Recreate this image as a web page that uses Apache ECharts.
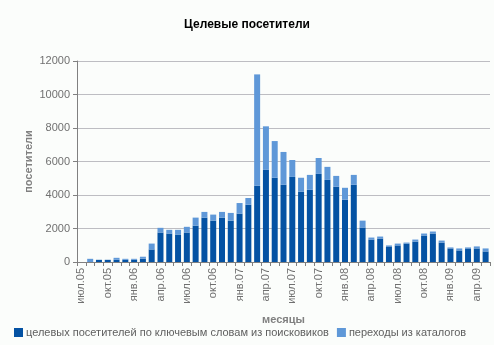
<!DOCTYPE html>
<html>
<head>
<meta charset="utf-8">
<script src="https://cdn.jsdelivr.net/npm/echarts@6/dist/echarts.min.js"></script>
<style>
  html, body { margin: 0; padding: 0; background: #fbfdfb; }
  #chart { width: 494px; height: 345px; }
</style>
</head>
<body>
<div id="chart"></div>
<script>
// Monthly categories, July 2005 – May 2009
const months = [
  'июл.05','авг.05','сен.05','окт.05','ноя.05','дек.05',
  'янв.06','фев.06','мар.06','апр.06','май.06','июн.06',
  'июл.06','авг.06','сен.06','окт.06','ноя.06','дек.06',
  'янв.07','фев.07','мар.07','апр.07','май.07','июн.07',
  'июл.07','авг.07','сен.07','окт.07','ноя.07','дек.07',
  'янв.08','фев.08','мар.08','апр.08','май.08','июн.08',
  'июл.08','авг.08','сен.08','окт.08','ноя.08','дек.08',
  'янв.09','фев.09','мар.09','апр.09','май.09'
];

// Visitors from search engines by keywords
const searchVisitors = [
  0, 0, 130, 130, 130, 130, 130, 200, 750, 1760, 1700, 1640,
  1760, 2170, 2650, 2470, 2650, 2470, 2890, 3420, 4550, 5500, 5030, 4610,
  5080, 4190, 4310, 5260, 4900, 4490, 3720, 4610, 2060, 1340, 1400, 930,
  990, 1100, 1220, 1580, 1700, 1160, 810, 690, 810, 810, 630
];

// Referrals from web directories
const catalogVisitors = [
  0, 190, 0, 0, 120, 60, 60, 115, 350, 280, 220, 280,
  340, 480, 340, 360, 340, 460, 630, 400, 6650, 2600, 2190, 1960,
  1010, 840, 890, 950, 780, 650, 710, 590, 410, 120, 120, 60,
  110, 60, 120, 120, 120, 120, 60, 120, 60, 120, 180
];

const seriesNames = [
  'целевых посетителей по ключевым словам из поисковиков',
  'переходы из каталогов'
];

const yTicks = { min: 0, max: 12000, interval: 2000 };

const FONT = 'Liberation Sans, Arial, sans-serif';
const GRAY = '#707070';

const chart = echarts.init(document.getElementById('chart'), null, { renderer: 'canvas' });
chart.setOption({
  backgroundColor: '#fbfdfb',
  animation: false,
  title: {
    text: 'Целевые посетители',
    left: 'center',
    top: 14,
    textStyle: { fontFamily: FONT, fontSize: 12, fontWeight: 'bold', color: '#000' }
  },
  legend: {
    left: 9,
    bottom: 2,
    itemWidth: 9,
    itemHeight: 9,
    itemGap: 8,
    icon: 'rect',
    textStyle: { fontFamily: FONT, fontSize: 11, color: '#606060', padding: [0, 0, 0, -2] },
    data: seriesNames
  },
  grid: { left: 77, right: 4, top: 61, bottom: 83, containLabel: false },
  xAxis: {
    type: 'category',
    data: months,
    name: 'месяцы',
    nameLocation: 'middle',
    nameGap: 52,
    nameMoveOverlap: false,
    nameTextStyle: { fontFamily: FONT, fontSize: 11, fontWeight: 'bold', color: '#808080' },
    axisLine: { lineStyle: { color: '#808080', width: 1 } },
    axisTick: { show: true, interval: 0, length: 4, lineStyle: { color: '#808080' } },
    axisLabel: {
      interval: 2,
      rotate: 90,
      margin: 6,
      fontFamily: FONT,
      fontSize: 11,
      color: GRAY
    }
  },
  yAxis: {
    type: 'value',
    min: yTicks.min,
    max: yTicks.max,
    interval: yTicks.interval,
    name: 'посетители',
    nameLocation: 'middle',
    nameGap: 43,
    nameMoveOverlap: false,
    nameRotate: 90,
    nameTextStyle: { fontFamily: FONT, fontSize: 11, fontWeight: 'bold', color: '#808080' },
    axisLine: { show: true, lineStyle: { color: '#808080', width: 1 } },
    axisTick: { show: true, length: 4, lineStyle: { color: '#808080' } },
    axisLabel: {
      fontFamily: FONT, fontSize: 11, color: GRAY, margin: 7,
      formatter: (v) => String(v)
    },
    splitLine: { lineStyle: { color: '#bdbdc2', width: 1 } }
  },
  series: [
    {
      name: seriesNames[0],
      type: 'bar',
      stack: 'total',
      barWidth: 6,
      itemStyle: { color: '#0452a3' },
      data: searchVisitors
    },
    {
      name: seriesNames[1],
      type: 'bar',
      stack: 'total',
      barWidth: 6,
      itemStyle: { color: '#5f98d8' },
      data: catalogVisitors
    }
  ]
});
</script>
</body>
</html>
